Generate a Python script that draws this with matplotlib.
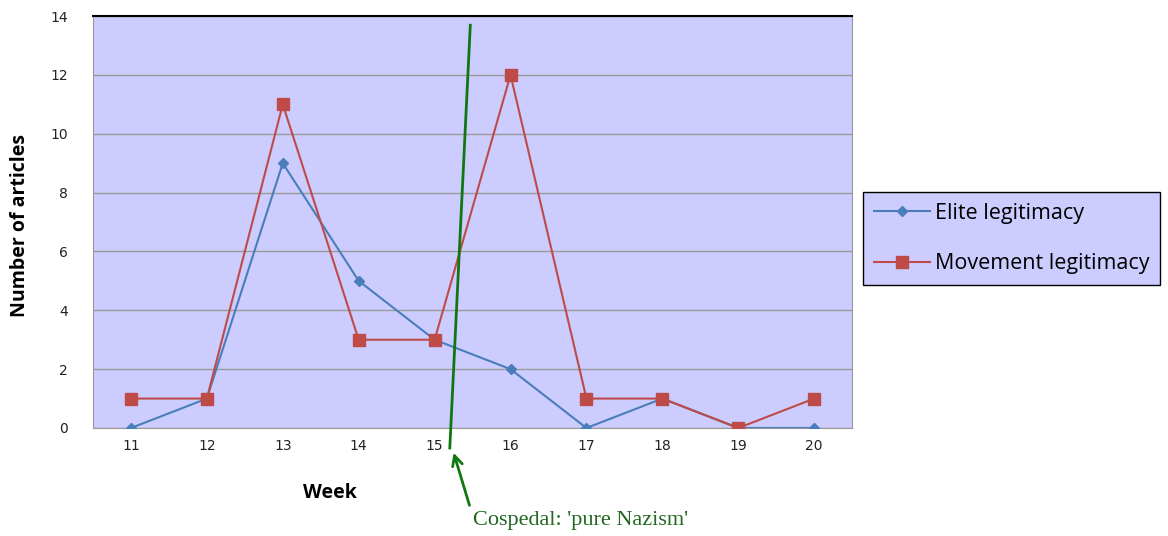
import matplotlib.pyplot as plt

weeks = [11, 12, 13, 14, 15, 16, 17, 18, 19, 20]
elite = [0, 1, 9, 5, 3, 2, 0, 1, 0, 0]
movement = [1, 1, 11, 3, 3, 12, 1, 1, 0, 1]
y_ticks = [0, 2, 4, 6, 8, 10, 12, 14]

fig = plt.figure(figsize=(11.68, 5.36), dpi=100)
ax = fig.add_axes([0.0796, 0.2015, 0.65, 0.7685])
ax.set_facecolor('#ccccff')

ax.plot(weeks, elite, color='#4a7ebb', marker='D', markersize=5, lw=1.5,
        label='Elite legitimacy', zorder=3)
ax.plot(weeks, movement, color='#be4b48', marker='s', markersize=8, lw=1.5,
        label='Movement legitimacy', zorder=3)

ax.set_xlim(10.5, 20.5)
ax.set_ylim(0, 14)
ax.set_xticks(weeks)
ax.set_yticks(y_ticks)
ax.yaxis.grid(True, color='#999999', lw=1)
ax.set_axisbelow(True)
ax.tick_params(length=0, labelsize=10, colors='#222222')
ax.tick_params(axis='x', pad=8)
ax.tick_params(axis='y', pad=18)
for s in ['left', 'bottom', 'right']:
    ax.spines[s].set_color('#999999')
ax.spines['top'].set_color('black')
ax.spines['top'].set_linewidth(1.5)

# axis titles placed like in the original (Week is not centred)
fig.text(330 / 1168, 1 - 493 / 536, 'Week', fontsize=14, fontweight='bold',
         family='Open Sans', ha='center', va='center')
fig.text(20 / 1168, 1 - 226 / 536, 'Number of articles', fontsize=14, fontweight='bold',
         family='Open Sans', ha='center', va='center', rotation=90)

# event marker line
ax.plot([15.47, 15.20], [13.69, -0.68], color='#117711', lw=2, clip_on=False, zorder=4)
ax.annotate('', xy=(15.24, -0.75), xytext=(15.47, -2.72),
            arrowprops=dict(arrowstyle='->', color='#117711', lw=2, mutation_scale=18),
            annotation_clip=False)
ax.text(15.50, -3.15, "Cospedal: 'pure Nazism'", family='Liberation Serif', fontsize=16,
        color='#226622', ha='left', va='center', clip_on=False)

leg = ax.legend(loc='center left', bbox_to_anchor=(1.014, 0.46), frameon=True,
                fancybox=False, prop={'family': 'Open Sans', 'size': 15.5},
                borderpad=0.5, labelspacing=1.35, handlelength=2.6, handletextpad=0.25,
                borderaxespad=0)
leg.get_frame().set_facecolor('#ccccff')
leg.get_frame().set_edgecolor('black')
leg.get_frame().set_alpha(1)

fig.savefig('out.png', dpi=100)
